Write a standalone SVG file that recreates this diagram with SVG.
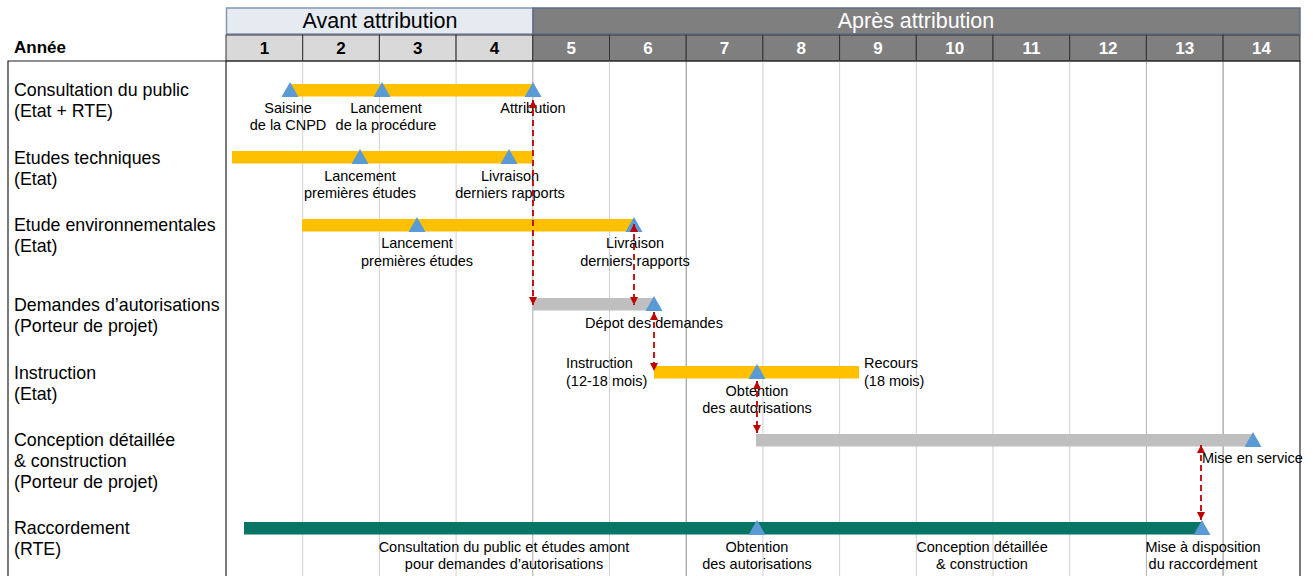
<svg xmlns="http://www.w3.org/2000/svg" xmlns:xlink="http://www.w3.org/1999/xlink" width="1313" height="576" viewBox="0 0 1313 576">
<style>
text{font-family:"Liberation Sans",Arial,sans-serif;fill:#000}
.lbl{font-size:17.8px}
.ann{font-size:14.5px;text-anchor:middle}
.annl{font-size:14.5px}
.yr{font-size:17px;font-weight:bold;text-anchor:middle}
.yrd{fill:#fff}
.hdr{font-size:21.5px;text-anchor:middle}
.g{stroke:#d0d0d0;stroke-width:1}
.gd{stroke:#8a8a8a;stroke-width:1}
.frame{stroke:#222;stroke-width:1.2;fill:none}
.cl{fill:#d9d9d9;stroke:#333;stroke-width:1}
.cd{fill:#7f7f7f;stroke:#333;stroke-width:1}
.bo{fill:#ffc000}
.bg{fill:#bfbfbf}
.bt{fill:#087566}
.ms{fill:#5b9bd5}
.dep{stroke:#c00000;stroke-width:1.8;stroke-dasharray:6 4;fill:none;marker-start:url(#ah);marker-end:url(#ah)}
</style>
<defs>
<path id="tri" class="ms" d="M-8.5,0 L0,-15 L8.5,0 Z"/>
<marker id="ah" viewBox="0 0 8 8" refX="8" refY="4" markerWidth="8" markerHeight="8" markerUnits="userSpaceOnUse" orient="auto-start-reverse">
<path d="M0,0 L8,4 L0,8 Z" fill="#c00000"/>
</marker>
</defs>
<rect width="1313" height="576" fill="#fff"/>

<g id="header">
<rect x="226.5" y="8" width="306.5" height="26" fill="#e6ebf1" stroke="#8497b5" stroke-width="1.5"/>
<rect x="533" y="8" width="767" height="26" fill="#7f7f7f" stroke="#5d6d8a" stroke-width="1.5"/>
<text class="hdr" x="380" y="28">Avant attribution</text>
<text class="hdr" x="916" y="28" style="fill:#fff">Après attribution</text>
<text x="14" y="53" style="font-size:17px;font-weight:bold">Année</text>
<rect class="cl" x="226" y="35" width="76.7" height="26"/>
<rect class="cl" x="302.7" y="35" width="76.7" height="26"/>
<rect class="cl" x="379.4" y="35" width="76.7" height="26"/>
<rect class="cl" x="456.1" y="35" width="76.7" height="26"/>
<rect class="cd" x="532.8" y="35" width="76.7" height="26"/>
<rect class="cd" x="609.5" y="35" width="76.7" height="26"/>
<rect class="cd" x="686.2" y="35" width="76.7" height="26"/>
<rect class="cd" x="762.9" y="35" width="76.7" height="26"/>
<rect class="cd" x="839.6" y="35" width="76.7" height="26"/>
<rect class="cd" x="916.3" y="35" width="76.7" height="26"/>
<rect class="cd" x="993" y="35" width="76.7" height="26"/>
<rect class="cd" x="1069.7" y="35" width="76.7" height="26"/>
<rect class="cd" x="1146.4" y="35" width="76.7" height="26"/>
<rect class="cd" x="1223.1" y="35" width="76.9" height="26"/>
<text class="yr" x="264.4" y="54">1</text>
<text class="yr" x="341.1" y="54">2</text>
<text class="yr" x="417.8" y="54">3</text>
<text class="yr" x="494.5" y="54">4</text>
<text class="yr yrd" x="571.2" y="54">5</text>
<text class="yr yrd" x="647.9" y="54">6</text>
<text class="yr yrd" x="724.6" y="54">7</text>
<text class="yr yrd" x="801.3" y="54">8</text>
<text class="yr yrd" x="878" y="54">9</text>
<text class="yr yrd" x="954.7" y="54">10</text>
<text class="yr yrd" x="1031.4" y="54">11</text>
<text class="yr yrd" x="1108.1" y="54">12</text>
<text class="yr yrd" x="1184.8" y="54">13</text>
<text class="yr yrd" x="1261.5" y="54">14</text>
</g>

<g id="grid">
<line class="g" x1="302.7" y1="61" x2="302.7" y2="576"/>
<line class="g" x1="379.4" y1="61" x2="379.4" y2="576"/>
<line class="g" x1="456.1" y1="61" x2="456.1" y2="576"/>
<line class="gd" x1="532.8" y1="61" x2="532.8" y2="576" style="stroke:#a8a8a8"/>
<line class="g" x1="609.5" y1="61" x2="609.5" y2="576"/>
<line class="gd" x1="686.2" y1="61" x2="686.2" y2="576"/>
<line class="g" x1="762.9" y1="61" x2="762.9" y2="576"/>
<line class="g" x1="839.6" y1="61" x2="839.6" y2="576"/>
<line class="g" x1="916.3" y1="61" x2="916.3" y2="576"/>
<line class="g" x1="993" y1="61" x2="993" y2="576"/>
<line class="g" x1="1069.7" y1="61" x2="1069.7" y2="576"/>
<line class="g" x1="1146.4" y1="61" x2="1146.4" y2="576" style="stroke:#b0b0b0"/>
<line class="gd" x1="1223.1" y1="61" x2="1223.1" y2="576"/>
<path class="frame" d="M8,576 V61 H1300 V576 M226,61 V576"/>
</g>

<g id="row-consultation">
<text class="lbl" x="14" y="96">Consultation du public</text>
<text class="lbl" x="14" y="117">(Etat + RTE)</text>
<rect class="bo" x="290" y="84" width="243" height="12.5"/>
<use href="#tri" xlink:href="#tri" x="290" y="97"/>
<use href="#tri" xlink:href="#tri" x="382" y="97"/>
<use href="#tri" xlink:href="#tri" x="533" y="97"/>
<text class="ann" x="288" y="113">Saisine</text>
<text class="ann" x="288" y="130">de la CNPD</text>
<text class="ann" x="386" y="113">Lancement</text>
<text class="ann" x="386" y="130">de la procédure</text>
<text class="ann" x="533" y="113">Attribution</text>
</g>

<g id="row-etudes-techniques">
<text class="lbl" x="14" y="164">Etudes techniques</text>
<text class="lbl" x="14" y="185">(Etat)</text>
<rect class="bo" x="232" y="151" width="301" height="12.5"/>
<use href="#tri" xlink:href="#tri" x="360" y="164"/>
<use href="#tri" xlink:href="#tri" x="509" y="164"/>
<text class="ann" x="360" y="181">Lancement</text>
<text class="ann" x="360" y="198">premières études</text>
<text class="ann" x="510" y="181">Livraison</text>
<text class="ann" x="510" y="198">derniers rapports</text>
</g>

<g id="row-etude-env">
<text class="lbl" x="14" y="231">Etude environnementales</text>
<text class="lbl" x="14" y="252">(Etat)</text>
<rect class="bo" x="302" y="219" width="332" height="12.5"/>
<use href="#tri" xlink:href="#tri" x="417" y="232"/>
<use href="#tri" xlink:href="#tri" x="634" y="232"/>
<text class="ann" x="417" y="248">Lancement</text>
<text class="ann" x="417" y="266">premières études</text>
<text class="ann" x="635" y="248">Livraison</text>
<text class="ann" x="635" y="266">derniers rapports</text>
</g>

<g id="row-demandes">
<text class="lbl" x="14" y="311">Demandes d’autorisations</text>
<text class="lbl" x="14" y="332">(Porteur de projet)</text>
<rect class="bg" x="533" y="298" width="121" height="12.5"/>
<use href="#tri" xlink:href="#tri" x="654" y="311"/>
<text class="ann" x="654" y="328">Dépot des demandes</text>
</g>

<g id="row-instruction">
<text class="lbl" x="14" y="379">Instruction</text>
<text class="lbl" x="14" y="400">(Etat)</text>
<rect class="bo" x="654" y="366" width="205" height="12.5"/>
<use href="#tri" xlink:href="#tri" x="757" y="379"/>
<text class="annl" x="566" y="368">Instruction</text>
<text class="annl" x="566" y="386">(12-18 mois)</text>
<text class="annl" x="864" y="368">Recours</text>
<text class="annl" x="864" y="386">(18 mois)</text>
<text class="ann" x="757" y="396">Obtention</text>
<text class="ann" x="757" y="413">des autorisations</text>
</g>

<g id="row-conception">
<text class="lbl" x="14" y="446">Conception détaillée</text>
<text class="lbl" x="14" y="467">&amp; construction</text>
<text class="lbl" x="14" y="488">(Porteur de projet)</text>
<rect class="bg" x="756" y="434" width="497" height="12.5"/>
<use href="#tri" xlink:href="#tri" x="1253" y="447"/>
<text class="annl" x="1202" y="463">Mise en service</text>
</g>

<g id="row-raccordement">
<text class="lbl" x="14" y="534">Raccordement</text>
<text class="lbl" x="14" y="555">(RTE)</text>
<rect class="bt" x="244" y="522" width="958" height="12.5"/>
<use href="#tri" xlink:href="#tri" x="757" y="535"/>
<use href="#tri" xlink:href="#tri" x="1202" y="535"/>
<text class="ann" x="504" y="552">Consultation du public et études amont</text>
<text class="ann" x="504" y="569">pour demandes d’autorisations</text>
<text class="ann" x="757" y="552">Obtention</text>
<text class="ann" x="757" y="569">des autorisations</text>
<text class="ann" x="982" y="552">Conception détaillée</text>
<text class="ann" x="982" y="569">&amp; construction</text>
<text class="ann" x="1203" y="552">Mise à disposition</text>
<text class="ann" x="1203" y="569">du raccordement</text>
</g>

<g id="connectors">
<line class="dep" x1="533" y1="100" x2="533" y2="305"/>
<line class="dep" x1="634" y1="224" x2="634" y2="305"/>
<line class="dep" x1="654" y1="312" x2="654" y2="371"/>
<line class="dep" x1="757" y1="381" x2="757" y2="433"/>
<line class="dep" x1="1201" y1="445" x2="1201" y2="520"/>
</g>
</svg>
